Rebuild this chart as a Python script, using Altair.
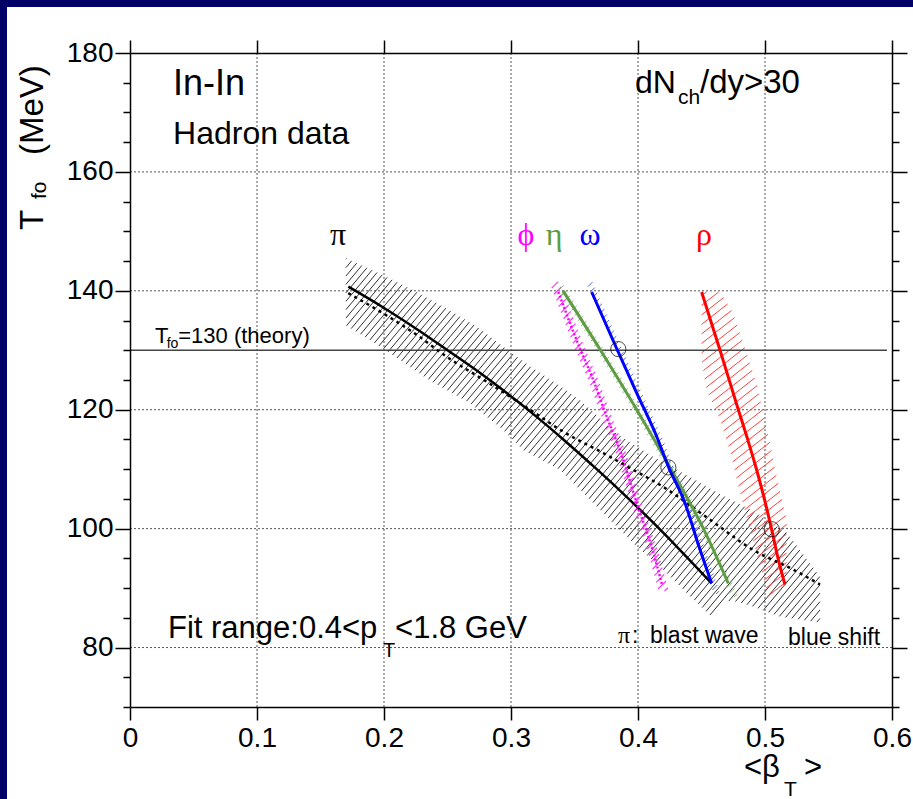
import altair as alt
import numpy as np
import pandas as pd

W, H = 762, 654
BETA_MAX, T_MIN, T_MAX = 0.6, 70, 180
SANS = "Liberation Sans"
SERIF = "Liberation Serif"
NAVY = "#000066"
GREEN = "#5e9c46"

# ---------------- data ----------------
# pion, blast wave (solid)
PI_BW_BETA = [0.1719, 0.1994, 0.2283, 0.2494, 0.2703, 0.2887, 0.3045, 0.3202, 0.3412, 0.3675, 0.3858, 0.4120, 0.4331, 0.4580]
PI_BW_T = [140.7, 137.2, 133.2, 130.1, 127.0, 124.1, 121.5, 118.8, 115.0, 110.0, 106.4, 101.0, 96.4, 90.8]
# pion, blue shift (dashed)
PI_BS_BETA = [0.1719, 0.1994, 0.2257, 0.2494, 0.2809, 0.3150, 0.3412, 0.3727, 0.3937, 0.4200, 0.4567, 0.4908, 0.5223, 0.5433]
PI_BS_T = [139.6, 136.2, 132.6, 128.9, 124.7, 120.0, 116.3, 112.7, 110.2, 107.0, 101.5, 96.4, 93.1, 90.6]
# pion band (upper edge, lower edge; left to right)
PI_UP_BETA = [0.1700, 0.1994, 0.2257, 0.2494, 0.2730, 0.2939, 0.3150, 0.3412, 0.3543, 0.3832, 0.4094, 0.4383, 0.4646, 0.4906, 0.5173, 0.5433]
PI_UP_T = [145.5, 142.6, 139.8, 137.0, 134.0, 130.6, 127.3, 123.6, 121.6, 116.0, 112.4, 109.0, 105.8, 103.0, 99.3, 91.9]
PI_LO_BETA = [0.1700, 0.1890, 0.2047, 0.2362, 0.2677, 0.2939, 0.3097, 0.3386, 0.3990, 0.4199, 0.4383, 0.4580, 0.4724, 0.4906, 0.5118, 0.5433]
PI_LO_T = [134.2, 131.7, 129.5, 124.9, 121.1, 116.6, 113.2, 109.9, 97.0, 93.1, 89.2, 85.2, 88.0, 86.9, 85.2, 84.2]

# rho
RHO_T = [139.8, 130.0, 120.0, 114.9, 109.9, 103.7, 99.8, 94.8, 90.6]
RHO_BETA = [0.4501, 0.4646, 0.4790, 0.4865, 0.4934, 0.5010, 0.5053, 0.5105, 0.5157]
RHO_LEFT_T = [139.8, 128.4, 123.3, 118.3, 112.7, 107.1, 99.8, 91.9, 88.3]
RHO_LEFT_BETA = [0.4501, 0.4501, 0.4540, 0.4646, 0.4730, 0.4790, 0.4882, 0.4987, 0.5026]
RHO_RIGHT_T = [139.8, 136.2, 129.5, 124.4, 119.4, 114.4, 108.8, 101.5, 90.3]
RHO_RIGHT_BETA = [0.4646, 0.4750, 0.4856, 0.4934, 0.4987, 0.5039, 0.5092, 0.5170, 0.5170]

# omega
OMEGA_T = [139.8, 130.3, 122.8, 115.5, 110.4, 104.3, 97.0, 90.8]
OMEGA_BETA = [0.3635, 0.3832, 0.3990, 0.4147, 0.4240, 0.4370, 0.4480, 0.4580]
OMEGA_BAND_T = [141.5, 139.8, 130.3, 122.8, 115.5, 110.4, 104.3, 97.0, 90.8, 89.0]
OMEGA_BAND_LO = [0.3590, 0.3625, 0.3822, 0.3980, 0.4137, 0.4230, 0.4360, 0.4470, 0.4570, 0.4596]
OMEGA_BAND_HI = [0.3640, 0.3675, 0.3872, 0.4030, 0.4187, 0.4280, 0.4410, 0.4520, 0.4620, 0.4646]

# eta
ETA_T = [140.0, 130.0, 120.0, 110.0, 100.0, 90.8]
ETA_BETA = [0.3410, 0.3705, 0.3990, 0.4260, 0.4515, 0.4711]
ETA_BAND_T = [141.5, 140.0, 130.0, 120.0, 110.0, 100.0, 88.5]
ETA_BAND_LO = [0.3334, 0.3378, 0.3673, 0.3958, 0.4228, 0.4483, 0.4728]
ETA_BAND_HI = [0.3398, 0.3442, 0.3737, 0.4022, 0.4292, 0.4547, 0.4792]

# phi
PHI_T = [139.8, 130.3, 125.0, 118.8, 113.2, 104.3, 96.4, 90.5]
PHI_BETA = [0.3372, 0.3543, 0.3648, 0.3754, 0.3858, 0.3990, 0.4115, 0.4190]
PHI_BAND_T = [141.5, 139.8, 130.3, 125.0, 118.8, 113.2, 104.3, 96.4, 89.5]
PHI_BAND_LO = [0.3302, 0.3332, 0.3503, 0.3608, 0.3714, 0.3818, 0.3950, 0.4075, 0.4162]
PHI_BAND_HI = [0.3382, 0.3412, 0.3583, 0.3688, 0.3794, 0.3898, 0.4030, 0.4155, 0.4242]

# crossing markers
CIRCLE_BETA = [0.3845, 0.4239, 0.5053]
CIRCLE_T = [130.2, 110.3, 99.9]

# theory line and grid / ticks
THEORY_T = 130
THEORY_BETA = [0.0, 0.596]
GRID_X = [0.1, 0.2, 0.3, 0.4, 0.5]
GRID_Y = [80, 100, 120, 140, 160]
X_TICKS = [0, 0.1, 0.2, 0.3, 0.4, 0.5, 0.6]
Y_TICKS = list(range(70, 181, 5))

# ---------------- helpers ----------------
XS = alt.Scale(domain=[0, BETA_MAX], nice=False, zero=False)
YS = alt.Scale(domain=[T_MIN, T_MAX], nice=False, zero=False)
PXB = W / BETA_MAX
PXT = H / (T_MAX - T_MIN)


def hatch(poly_b, poly_t, spacing, angle):
    """Clip parallel hatch lines (angle in screen degrees) to a polygon."""
    x = np.asarray(poly_b, float) * PXB
    y = np.asarray(poly_t, float) * PXT
    th = np.radians(angle)
    d = np.array([np.cos(th), np.sin(th)])
    n = np.array([-np.sin(th), np.cos(th)])
    proj = x * n[0] + y * n[1]
    along = x * d[0] + y * d[1]
    rows = []
    m = len(x)
    c = proj.min() + spacing / 2
    while c < proj.max():
        ts = []
        for i in range(m):
            j = (i + 1) % m
            a, bb = proj[i] - c, proj[j] - c
            if (a < 0) != (bb < 0):
                f = a / (a - bb)
                ts.append(along[i] + f * (along[j] - along[i]))
        ts.sort()
        for k in range(0, len(ts) - 1, 2):
            p0 = c * n + ts[k] * d
            p1 = c * n + ts[k + 1] * d
            rows.append((p0[0] / PXB, p0[1] / PXT, p1[0] / PXB, p1[1] / PXT))
        c += spacing
    return pd.DataFrame(rows, columns=["b", "t", "b2", "t2"])


def hatch_layer(df, color, width=1.0, opacity=1.0):
    return alt.Chart(df).mark_rule(color=color, strokeWidth=width, opacity=opacity).encode(
        x=alt.X("b:Q", scale=XS, axis=None),
        y=alt.Y("t:Q", scale=YS, axis=None),
        x2="b2:Q",
        y2="t2:Q",
    )


def line_layer(betas, ts, color, width, dash=None):
    df = pd.DataFrame({"b": betas, "t": ts, "i": range(len(ts))})
    kw = dict(color=color, strokeWidth=width, interpolate="monotone")
    if dash:
        kw["strokeDash"] = dash
    return alt.Chart(df).mark_line(**kw).encode(
        x=alt.X("b:Q", scale=XS, axis=None),
        y=alt.Y("t:Q", scale=YS, axis=None),
        order="i:Q",
    )


def txt(s, b, t, size, color="black", font=SANS, align="left"):
    df = pd.DataFrame({"b": [b], "t": [t], "s": [s]})
    return alt.Chart(df).mark_text(
        font=font, fontSize=size, color=color, align=align, baseline="alphabetic"
    ).encode(
        x=alt.X("b:Q", scale=XS, axis=None),
        y=alt.Y("t:Q", scale=YS, axis=None),
        text="s:N",
    )


def ptxt(s, px, py, size, angle=0, font=SANS):
    df = pd.DataFrame({"s": [s]})
    return alt.Chart(df).mark_text(
        font=font, fontSize=size, color="black", align="left", baseline="alphabetic", angle=angle
    ).encode(x=alt.value(px), y=alt.value(py), text="s:N")


# ---------------- layers ----------------
frame_bg = alt.Chart(pd.DataFrame({"a": [0]})).mark_rect(color="white").encode(
    x=alt.value(-123), x2=alt.value(W + 21), y=alt.value(-46), y2=alt.value(H + 92)
)

major = "datum.value % 20 === 0"
common_axis = dict(
    title=None, grid=False, domainColor="black", domainWidth=1.5,
    tickColor="black", tickWidth=1.5, labelFont=SANS, labelFontSize=28,
    labelColor="black", labelFlush=False, labelOverlap=False, labelBound=False,
    zindex=2,
)

grid_x = alt.Chart(pd.DataFrame({"b": GRID_X})).mark_rule(
    color="#555555", strokeWidth=1, strokeDash=[2, 2]
).encode(
    x=alt.X("b:Q", scale=XS, axis=alt.Axis(
        orient="bottom", values=X_TICKS, format=".1~f", tickSize=13, labelPadding=4, **common_axis))
)

grid_y = alt.Chart(pd.DataFrame({"t": GRID_Y})).mark_rule(
    color="#555555", strokeWidth=1, strokeDash=[2, 2]
).encode(
    y=alt.Y("t:Q", scale=YS, axis=alt.Axis(
        orient="left", values=Y_TICKS,
        labelExpr=f"{major} ? datum.label : ''",
        tickSize={"condition": {"test": major, "value": 15}, "value": 7},
        labelPadding=2, **common_axis))
)

theory = alt.Chart(pd.DataFrame({"b": [THEORY_BETA[0]], "b1": [THEORY_BETA[1]], "t": [THEORY_T]})).mark_rule(
    color="#444444", strokeWidth=1.5
).encode(
    x=alt.X("b:Q", scale=XS, axis=alt.Axis(
        orient="top", values=X_TICKS, labels=False, tickSize=13, **common_axis)),
    x2="b1:Q",
    y=alt.Y("t:Q", scale=YS, axis=alt.Axis(
        orient="right", values=Y_TICKS, labels=False,
        tickSize={"condition": {"test": major, "value": 15}, "value": 7}, **common_axis)),
)

pi_poly_b = PI_UP_BETA + PI_LO_BETA[::-1]
pi_poly_t = PI_UP_T + PI_LO_T[::-1]
rho_poly_b = RHO_LEFT_BETA + RHO_RIGHT_BETA[::-1]
rho_poly_t = RHO_LEFT_T + RHO_RIGHT_T[::-1]

h_pi = hatch_layer(hatch(pi_poly_b, pi_poly_t, 5.4, 50), "#333333", 1.0)
h_rho = hatch_layer(hatch(rho_poly_b, rho_poly_t, 7.5, 38), "#ff4040", 1.0)
h_phi = hatch_layer(hatch(PHI_BAND_LO + PHI_BAND_HI[::-1], PHI_BAND_T + PHI_BAND_T[::-1], 6.0, 45), "#ff33ff", 1.2)
h_eta = hatch_layer(hatch(ETA_BAND_LO + ETA_BAND_HI[::-1], ETA_BAND_T + ETA_BAND_T[::-1], 6.0, 40), "#8cbc78", 1.0)
h_omega = hatch_layer(hatch(OMEGA_BAND_LO + OMEGA_BAND_HI[::-1], OMEGA_BAND_T + OMEGA_BAND_T[::-1], 5.5, 45), "#4060ff", 1.0)

l_pi_bw = line_layer(PI_BW_BETA, PI_BW_T, "black", 2.5)
l_pi_bs = line_layer(PI_BS_BETA, PI_BS_T, "black", 2.5, [3, 4])
l_phi = line_layer(PHI_BETA, PHI_T, "#ff00ff", 2.5, [2, 2])
l_eta = line_layer(ETA_BETA, ETA_T, GREEN, 3)
l_omega = line_layer(OMEGA_BETA, OMEGA_T, "#0000ff", 3)
l_rho = line_layer(RHO_BETA, RHO_T, "#ff0000", 3)

circles = alt.Chart(pd.DataFrame({"b": CIRCLE_BETA, "t": CIRCLE_T})).mark_point(
    shape="circle", filled=False, size=230, color="black", strokeWidth=1
).encode(x=alt.X("b:Q", scale=XS, axis=None), y=alt.Y("t:Q", scale=YS, axis=None))

texts = [
    txt("In-In", 0.0339, 172.9, 36),
    txt("Hadron data", 0.0339, 164.7, 32),
    txt("dN", 0.3976, 173.2, 32),
    txt("ch", 0.4315, 171.5, 21),
    txt("/dy>30", 0.4488, 173.2, 33),
    txt("T", 0.0197, 131.17, 22),
    txt("fo", 0.0289, 130.4, 14),
    txt("=130 (theory)", 0.0380, 131.17, 22),
    txt("Fit range:0.4<p", 0.0299, 81.65, 31),
    txt("T", 0.1992, 78.45, 20),
    txt("<1.8 GeV", 0.2087, 81.65, 31),
    txt("π", 0.3843, 80.8, 24, font=SERIF),
    txt(":", 0.3953, 80.8, 23),
    txt("blast wave", 0.4094, 80.8, 23),
    txt("blue shift", 0.5181, 80.5, 23),
    txt("π", 0.1638, 147.7, 32, font=SERIF, align="center"),
    txt("ϕ", 0.3118, 147.7, 32, color="#ff00ff", font=SERIF, align="center"),
    txt("η", 0.3339, 147.7, 32, color=GREEN, font=SERIF, align="center"),
    txt("ω", 0.3622, 147.7, 32, color="#0000ff", font=SERIF, align="center"),
    txt("ρ", 0.4520, 147.7, 32, color="#ff0000", font=SERIF, align="center"),
    # axis titles (pixel positions relative to the plot area)
    ptxt("T", -87, 177, 33, angle=270),
    ptxt("fo", -84, 146, 21, angle=270),
    ptxt("(MeV)", -87, 102, 33, angle=270),
    ptxt("<β", 614, 724, 31),
    ptxt("T", 654, 743, 21),
    ptxt(">", 674, 724, 31),
]

chart = alt.layer(
    frame_bg, grid_x, grid_y,
    h_pi, h_rho, h_phi, h_eta, h_omega,
    theory,
    l_pi_bw, l_pi_bs, l_phi, l_eta, l_omega, l_rho,
    circles,
    *texts,
).resolve_axis(x="independent", y="independent").properties(
    width=W, height=H,
    autosize=alt.AutoSizeParams(type="none"),
    padding={"left": 130, "top": 53, "right": 21, "bottom": 92},
    background=NAVY,
).configure_view(stroke=None)

chart.save("out.html", embed_options={"renderer": "svg", "actions": False})
